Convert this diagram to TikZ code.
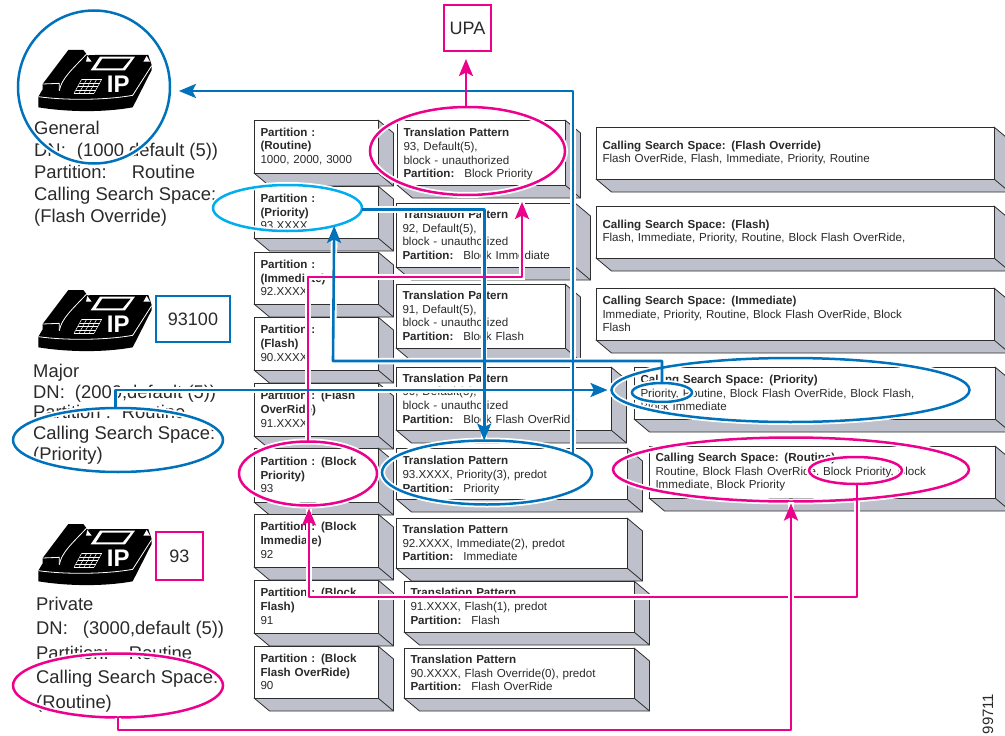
\documentclass[tikz,border=0pt]{standalone}
\usepackage{fontspec}
\setmainfont{Liberation Sans}
\usetikzlibrary{arrows.meta,calc,shapes.geometric}
\definecolor{cblue}{HTML}{0072BC}
\definecolor{cpink}{HTML}{EC008C}
\definecolor{ccyan}{HTML}{00AEEF}
\definecolor{cside}{HTML}{BEC1CB}
\definecolor{cedge}{HTML}{2E2E2E}
\definecolor{ctext}{HTML}{2A2A2A}
\tikzset{
  frontbox/.style={draw=cedge,line width=1pt,fill=white,rectangle,inner xsep=6.5pt,inner ysep=0pt,outer sep=0pt,align=left,text=ctext,font=\fontsize{11.6}{13.7}\selectfont},
  sideface/.style={fill=cside,draw=cedge,line width=0.8pt,line join=round},
  halo/.style={draw=white,line width=6.5pt,-,line cap=butt},
  wire/.style={line width=2.6pt,line join=round,-{Stealth[length=17pt,width=14pt,inset=3.5pt]}},
  ringhalo/.style={ellipse,draw=white,line width=6pt,inner sep=0pt,outer sep=0pt},
  ringline/.style={ellipse,line width=2.5pt,inner sep=0pt,outer sep=0pt},
  tagbox/.style={rectangle,line width=2.5pt,fill=white,inner sep=0pt,outer sep=0pt,text=ctext,font=\fontsize{18}{22}\selectfont},
  phonetext/.style={align=left,anchor=west,inner sep=0pt,text=ctext},
}
\newcommand\bx[6]{%
  \pgfmathsetmacro\bw{#4-#2}\pgfmathsetmacro\bh{#5-#3}\pgfmathsetmacro\tw{#4-#2-13}%
  \pgfmathsetmacro\cxx{(#2+#4)/2}\pgfmathsetmacro\cyy{(#3+#5)/2}%
  \path[sideface] (#2,#5) -- ++(15.5,13) -- (#4+15.5,#5+13) -- (#4+15.5,#3+13) -- (#4,#3) -- (#4,#5) -- cycle;
  \draw[sideface,fill=none] (#4,#5) -- ++(15.5,13);
  \node[frontbox,minimum width=\bw pt,minimum height=\bh pt,text width=\tw pt] (#1) at (\cxx,\cyy) {#6};
}
\newcommand\ringA[5]{\node[ringhalo,minimum width=2*#4 pt,minimum height=2*#5 pt] (#1) at (#2,#3) {};}
\newcommand\ringB[6]{\node[ringline,draw=#6,minimum width=2*#4 pt,minimum height=2*#5 pt] (#1c) at (#2,#3) {};}
\newcommand\allrings[1]{%
  \csname ring#1\endcsname{gen}{94}{87}{76}{76.5}{cblue}
  \csname ring#1\endcsname{prio}{287.5}{208}{74.5}{23}{ccyan}
  \csname ring#1\endcsname{tone}{467.5}{151}{97.5}{44}{cpink}
  \csname ring#1\endcsname{bprio}{308}{473.5}{69}{32}{cpink}
  \csname ring#1\endcsname{tfive}{487}{472.5}{105}{32}{cblue}
  \csname ring#1\endcsname{csp}{790.5}{390}{179}{32}{cblue}
  \csname ring#1\endcsname{cspi}{662}{392.5}{30}{9.5}{cblue}
  \csname ring#1\endcsname{csr}{791}{469.5}{178}{32}{cpink}
  \csname ring#1\endcsname{csri}{855.5}{470.5}{46.5}{13.5}{cpink}
  \csname ring#1\endcsname{maj}{118}{440}{105}{32}{cblue}
  \csname ring#1\endcsname{rte}{118}{685.5}{105}{32}{cpink}
}
\newcommand\phoneicon[2]{%
\begin{scope}[shift={(0,#1)},x=0.33333pt,y=-0.33333pt]
  \fill[black] (115,322) -- (115,290) -- (128,268) -- (128,252) -- (205,150) -- (250,150) -- (262,166) -- (285,165) -- (445,165) -- (455,195) -- (455,210) -- (398,322) .. controls (310,338) and (200,336) .. cycle;
  \draw[white,line width=0.8pt] (128,252) -- (178,250) -- (178,272);
  \draw[white,line width=0.8pt] (178,272) .. controls (185,235) and (215,210) .. (260,162);
  \draw[white,line width=0.8pt] (115,290) .. controls (200,302) and (320,300) .. (398,286) -- (455,197);
  \fill[white] (262,168) -- (275,185) -- (258,185) -- cycle;
  \fill[white] (440,168) -- (450,185) -- (430,185) -- cycle;
  \fill[white] (300,170) -- (405,170) -- (375,211) -- (272,211) -- cycle;
  \fill[black] (307,176) -- (392,176) -- (368,205) -- (288,205) -- cycle;
  \foreach \s in {0,0.25,0.5,0.75,1} {
    \draw[white,line width=0.5pt] ({222+60*\s},280) -- ({245+60*\s},238);
    \draw[white,line width=0.5pt] ({222+23*\s},{280-42*\s}) -- ({282+23*\s},{280-42*\s});
  }
  \node[text=white,inner sep=0pt,font=\fontsize{24}{24}\selectfont\bfseries] (#2) at (355,254) {IP};
\end{scope}
}
\newcommand\connpaths{%
  \conn{cblue,shorten >=9pt}{(tfive.12.4) |- (gen.-3)}
  \conn{cblue}{(prio.-1.5) -| (tfive.95)}
  \conn{cpink,shorten >=7pt}{(bprio.north) |- (cb) -- (cb |- tone.south)}
  \conn{cblue}{(cspi.north) |- (cc) -- (prio.-21.8)}
  \conn{cblue,shorten >=4pt}{(maj.95.4) |- (csp.west)}
  \conn{cpink,shorten >=8pt}{(tone.92) -- (tone.92 |- upa.south)}
  \conn{cpink,shorten >=3pt}{(csri.-83.7) |- (cd) -- (cd |- bprio.south)}
}
\newcommand\lift{\rule{0pt}{12pt}}
\begin{document}
\begin{tikzpicture}[x=1pt,y=-1pt]
\path[use as bounding box] (0,0) rectangle (1005,736);
\clip (0,0) rectangle (1005,736);
\fill[white] (0,0) rectangle (1005,736);
\coordinate (cb) at (522,277);
\coordinate (cc) at (333,361);
\coordinate (cd) at (309,597);
\coordinate (ce) at (791,730);

% Partition column
\bx{pa}{254}{120}{378}{173}{\textbf{Partition :}\\\textbf{(Routine)}\\1000, 2000, 3000}
\bx{pb}{254}{186}{378}{238}{\textbf{Partition :}\\\textbf{(Priority)}\\93.XXXX}
\bx{pc}{254}{252}{378}{304}{\textbf{Partition :}\\\textbf{(Immediate)}\\92.XXXX}
\bx{pd}{254}{317}{378}{370}{\textbf{Partition :}\\\textbf{(Flash)}\\90.XXXX}
\bx{pe}{254}{383}{378}{436}{\textbf{Partition : (Flash}\\\textbf{OverRide)}\\91.XXXX}
\bx{pf}{254}{448}{378}{502}{\textbf{Partition : (Block}\\\textbf{Priority)}\\93}
\bx{pg}{254}{514}{378}{567}{\textbf{Partition : (Block}\\\textbf{Immediate)}\\92}
\bx{ph}{254}{580}{378}{633}{\textbf{Partition : (Block}\\\textbf{Flash)}\\91}
\bx{pi}{254}{646}{378}{698}{\textbf{Partition : (Block}\\\textbf{Flash OverRide)}\\90}

% Translation column
\bx{ta}{397}{120}{565}{185}{\lift\textbf{Translation Pattern}\\93, Default(5),\\block - unauthorized\\\textbf{Partition:}\hspace{10pt}Block Priority}
\bx{tb}{396}{203}{575}{267}{\textbf{Translation Pattern}\\92, Default(5),\\block - unauthorized\\\textbf{Partition:}\hspace{10pt}Block Immediate}
\bx{tc}{396}{284}{565}{348}{\textbf{Translation Pattern}\\91, Default(5),\\block - unauthorized\\\textbf{Partition:}\hspace{10pt}Block Flash}
\bx{td}{396}{367}{611}{430}{\textbf{Translation Pattern}\\90, Default(5),\\block - unauthorized\\\textbf{Partition:}\hspace{10pt}Block Flash OverRide}
\bx{te}{396}{448}{627}{499}{\lift\textbf{Translation Pattern}\\93.XXXX, Priority(3), predot\\\textbf{Partition:}\hspace{10pt}Priority}
\bx{tf}{396}{518}{627}{568}{\textbf{Translation Pattern}\\92.XXXX, Immediate(2), predot\\\textbf{Partition:}\hspace{10pt}Immediate}
\bx{tg}{404}{581}{634}{632}{\textbf{Translation Pattern}\\91.XXXX, Flash(1), predot\\\textbf{Partition:}\hspace{10pt}Flash}
\bx{th}{404}{648}{634}{698}{\textbf{Translation Pattern}\\90.XXXX, Flash Override(0), predot\\\textbf{Partition:}\hspace{10pt}Flash OverRide}

% Calling search space column
\bx{ca}{596}{127}{994}{179}{\textbf{Calling Search Space: (Flash Override)}\\Flash OverRide, Flash, Immediate, Priority, Routine}
\bx{cb2}{596}{206}{994}{258}{\textbf{Calling Search Space: (Flash)}\\Flash, Immediate, Priority, Routine, Block Flash OverRide,}
\bx{cc2}{596}{288}{994}{340}{\textbf{Calling Search Space: (Immediate)}\\Immediate, Priority, Routine, Block Flash OverRide, Block\\Flash}
\bx{cd2}{634}{367}{995}{419}{\textbf{Calling Search Space: (Priority)}\\Priority, Routine, Block Flash OverRide, Block Flash,\\Block Immediate}
\bx{ce2}{649}{446}{995}{498}{\textbf{Calling Search Space: (Routine)}\\Routine, Block Flash OverRide, Block Priority, Block\\Immediate, Block Priority}

% Phones and their texts
\phoneicon{0}{ipa}
\phoneicon{240}{ipb}
\phoneicon{474}{ipc}
\node[phonetext,font=\fontsize{18.4}{22}\selectfont] (lga) at (34,173.5) {General\\DN:\hspace{6pt} (1000,default (5))\\Partition:\hspace{25pt}Routine\\Calling Search Space:\\(Flash Override)};
\node[phonetext,font=\fontsize{18.4}{20.7}\selectfont] (lgb) at (33,414) {Major\\DN:\hspace{5pt} (2000,default (5))\\Partition :\hspace{11pt}Routine\\Calling Search Space:\\(Priority)};
\node[phonetext,font=\fontsize{18.4}{24.4}\selectfont] (lgc) at (36,654.5) {Private\\DN:\hspace{10pt} (3000,default (5))\\Partition:\hspace{20pt}Routine\\Calling Search Space:\\(Routine)};

% Tag boxes
\node[tagbox,draw=cpink,minimum width=47pt,minimum height=46pt] (upa) at (467.5,28) {UPA};
\node[tagbox,draw=cblue,minimum width=74pt,minimum height=46pt] (tagb) at (193,319) {93100};
\node[tagbox,draw=cpink,minimum width=47pt,minimum height=48pt] (tagc) at (179.5,556) {93};
\node[rotate=90,inner sep=0pt,text=ctext,font=\fontsize{15}{15}\selectfont] (fig) at (988,714) {99711};

% White halos, then coloured rings and wires
\allrings{A}
\def\conn#1#2{\draw[#1,halo] #2;}
\connpaths
\allrings{B}
\def\conn#1#2{\draw[wire,#1] #2;}
\connpaths
% Long connector that passes over the others
\draw[halo] (rte.south) |- (ce) -- (csr.south);
\draw[wire,cpink,shorten >=2pt] (rte.south) |- (ce) -- (csr.south);
\end{tikzpicture}
\end{document}
